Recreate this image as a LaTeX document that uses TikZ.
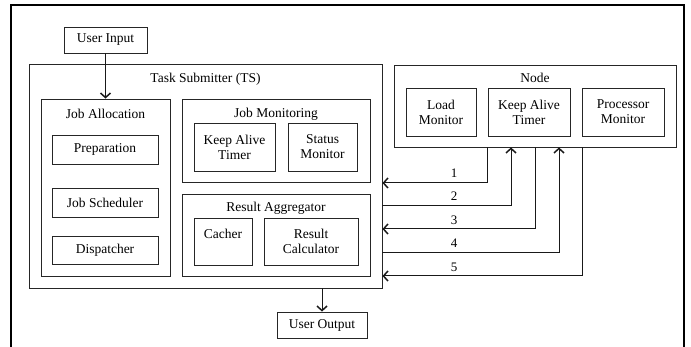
\documentclass[tikz,border=0pt]{standalone}
\usepackage{fontspec}
\setmainfont{Liberation Serif}
\usetikzlibrary{arrows.meta,positioning}
\tikzset{
  box/.style={draw=black!85, line width=0.9pt, align=center, inner sep=0pt,
              font=\fontsize{13.5}{15}\selectfont},
  sz/.style 2 args={minimum width=#1pt, minimum height=#2pt},
  ttl/.style={font=\fontsize{13.5}{15}\selectfont, inner sep=0pt},
  lab/.style={font=\fontsize{13}{14}\selectfont, inner sep=0pt},
  arr/.style={-{Straight Barb[length=4.5pt,width=10pt,line width=1.5pt]}, line width=1pt, black!90},
  outer/.style={line width=2pt, black},
}

\begin{document}
\begin{tikzpicture}[x=1pt, y=-1pt]
        \useasboundingbox (0,0) rectangle (691,347);
        \draw[outer] (11,347) -- (11,5) -- (684,5) -- (684,347);
        % task submitter side
        \node[box, sz={83}{26}] (in) at (105.5,40) {User Input};
        \node[box, sz={353}{224}] (ts) at (205.5,176) {};
        \node[ttl] (tst) at (205.5,79) {Task Submitter (TS)};
        \node[box, sz={129}{177}] (ja) at (105.5,187.5) {};
        \node[ttl] (jat) at (105.5,114) {Job Allocation};
        \node[box, sz={106}{29}] (prep) at (105,149.5) {Preparation};
        \node[box, sz={106}{29}] (sched) at (105,202.5) {Job Scheduler};
        \node[box, sz={106}{28}] (disp) at (105,250) {Dispatcher};
        \node[box, sz={188}{83}] (jm) at (276,140.5) {};
        \node[ttl] (jmt) at (276,114) {Job Monitoring};
        \node[box, sz={81}{48}] (kat) at (234.5,147) {Keep Alive\\Timer};
        \node[box, sz={69}{48}] (stat) at (322.5,147) {Status\\Monitor};
        \node[box, sz={188}{82}] (ra) at (276,235) {};
        \node[ttl] (rat) at (276,208) {Result Aggregator};
        \node[box, sz={58}{47}] (cach) at (223,241.5) {Cacher\\\mbox{}};
        \node[box, sz={94}{47}] (calc) at (311,241.5) {Result\\Calculator};
        \node[box, sz={90}{26}] (out) at (322,325) {User Output};
        % node side
        \node[box, sz={282}{82}] (nd) at (535,106) {};
        \node[ttl] (ndt) at (535,78) {Node};
        \node[box, sz={70}{48}] (load) at (441,112) {Load\\Monitor};
        \node[box, sz={82}{48}] (nkat) at (529,112) {Keep Alive\\Timer};
        \node[box, sz={82}{48}] (proc) at (623,112) {Processor\\Monitor};
        % connectors
        \draw[arr] (in.south) -- (ja.north);
        \draw[arr] (out.north |- ts.south) -- (out.north);
        \draw[arr] ([xshift=-48pt]nd.south) |- (ts.east |- 0,183);
        \draw[arr] (ts.east |- 0,206) -| ([xshift=-24pt]nd.south);
        \draw[arr] (nd.south) |- (ts.east |- 0,229);
        \draw[arr] (ts.east |- 0,253) -| ([xshift=24pt]nd.south);
        \draw[arr] ([xshift=47pt]nd.south) |- (ts.east |- 0,276);
        \node[lab] (l1) at (454,173) {1};
        \node[lab] (l2) at (454,196) {2};
        \node[lab] (l3) at (454,220) {3};
        \node[lab] (l4) at (454,243) {4};
        \node[lab] (l5) at (454,267) {5};
      \end{tikzpicture}
\end{document}
